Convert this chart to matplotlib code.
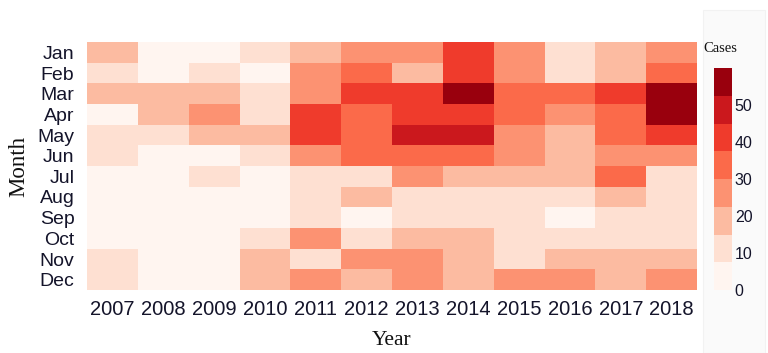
import matplotlib.pyplot as plt
import numpy as np
from matplotlib.colors import ListedColormap, BoundaryNorm
from matplotlib.patches import Rectangle

# Monatliche Fallzahlen 2007-2018
years = ['2007', '2008', '2009', '2010', '2011', '2012',
         '2013', '2014', '2015', '2016', '2017', '2018']
months = ['Jan', 'Feb', 'Mar', 'Apr', 'May', 'Jun',
          'Jul', 'Aug', 'Sep', 'Oct', 'Nov', 'Dec']

jan = [18, 3, 4, 10, 17, 25, 26, 41, 27, 12, 19, 24]
feb = [11, 2, 12, 5, 28, 35, 21, 42, 26, 13, 20, 34]
mar = [20, 19, 21, 9, 27, 40, 41, 56, 33, 36, 39, 58]
apr = [4, 21, 25, 13, 43, 34, 42, 40, 32, 26, 35, 57]
may = [12, 13, 18, 20, 42, 33, 47, 48, 25, 19, 32, 39]
jun = [11, 5, 4, 12, 27, 36, 34, 33, 26, 18, 28, 27]
jul = [3, 4, 10, 5, 9, 11, 29, 20, 16, 19, 31, 14]
aug = [2, 3, 3, 4, 12, 18, 12, 13, 10, 11, 17, 12]
sep = [2, 2, 3, 3, 11, 6, 13, 9, 10, 5, 9, 11]
oct_ = [3, 2, 2, 10, 26, 9, 19, 22, 9, 8, 10, 13]
nov = [12, 3, 4, 20, 10, 25, 27, 19, 13, 18, 21, 16]
dec = [9, 5, 3, 21, 28, 16, 26, 22, 24, 27, 17, 25]

cases = np.array([jan, feb, mar, apr, may, jun, jul, aug, sep, oct_, nov, dec])

# 8 Klassen (ColorBrewer Reds)
reds8 = ['#fff5f0', '#fee0d2', '#fcbba1', '#fc9272',
         '#fb6a4a', '#ef3b2c', '#cb181d', '#99000d']
cmap = ListedColormap(reds8)
norm = BoundaryNorm(np.linspace(0, 60, 9), cmap.N)

txt = '#14142a'
sans = ['Liberation Sans', 'DejaVu Sans']
serif = ['Liberation Serif', 'DejaVu Serif']

fig = plt.figure(figsize=(7.68, 3.53), dpi=100)

# heller Hintergrund der Legende
fig.patches.append(Rectangle((703 / 768, 0.0), 62 / 768, 1 - 10 / 353,
                             transform=fig.transFigure, facecolor='#fafafa',
                             edgecolor='#f2f2f2', lw=0.8, zorder=-1))

ax = fig.add_axes([87 / 768, 1 - 290 / 353, 610 / 768, 248 / 353])
mesh = ax.pcolormesh(cases, cmap=cmap, norm=norm)
ax.set_xlim(0, 12)
ax.set_ylim(12, 0)
ax.set_xticks(np.arange(12) + 0.5)
ax.set_xticklabels(years, fontsize=14.5, family=sans, color=txt)
ax.set_yticks(np.arange(12) + 0.5)
ax.set_yticklabels(months, fontsize=14, family=sans, color=txt)
ax.tick_params(axis='x', length=0, pad=7)
ax.tick_params(axis='y', length=0, pad=9)
for s in ax.spines.values():
    s.set_visible(False)
ax.set_xlabel('Year', fontsize=15.5, family=serif, color='#111111', labelpad=9)
ax.set_ylabel('Month', fontsize=16.5, family=serif, color='#111111', labelpad=6)

# Farbskala
cax = fig.add_axes([714 / 768, 1 - 290 / 353, 18 / 768, 222 / 353])
cb = fig.colorbar(mesh, cax=cax, ticks=[0, 10, 20, 30, 40, 50])
cb.outline.set_visible(False)
cb.minorticks_off()
cax.tick_params(which='both', length=0, width=0, pad=2)
for t in cax.get_yticklabels():
    t.set_fontsize(11.5)
    t.set_family(sans)
    t.set_color(txt)
fig.text(703 / 768, 1 - 48 / 353, 'Cases', fontsize=10.5, family=serif,
         color='#111111', va='center', ha='left')

plt.savefig('out.png', dpi=100)
